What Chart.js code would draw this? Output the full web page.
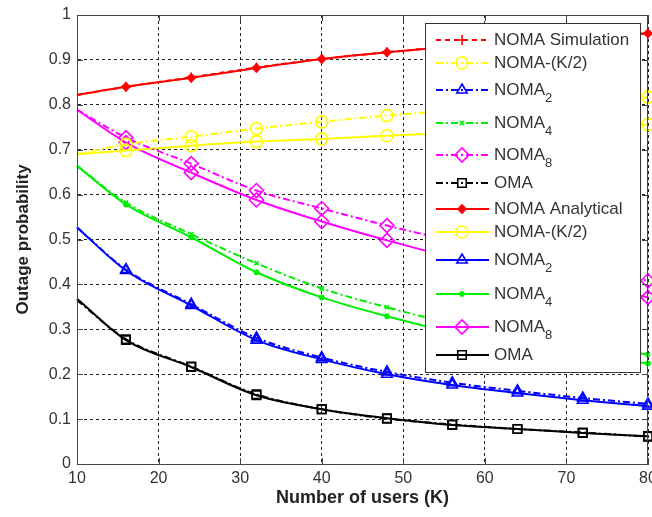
<!DOCTYPE html>
<html>
<head>
<meta charset="utf-8">
<script src="https://cdn.jsdelivr.net/npm/chart.js@4.4.1/dist/chart.umd.min.js"></script>
<style>
  html, body { margin: 0; padding: 0; background: #fff; }
  #wrap { width: 652px; height: 517px; }
</style>
</head>
<body>
<div id="wrap"><canvas id="chart" width="652" height="517"></canvas></div>
<script>
// number of users K (first point has no marker)
var usersK = [10, 16, 24, 32, 40, 48, 56, 64, 72, 80];

var nomaSim = [0.822, 0.840, 0.861, 0.883, 0.902, 0.917, 0.930, 0.941, 0.951, 0.959];
var nomaAna = [0.822, 0.840, 0.860, 0.882, 0.902, 0.917, 0.930, 0.941, 0.951, 0.959];
var halfSim = [0.690, 0.712, 0.729, 0.747, 0.762, 0.776, 0.787, 0.798, 0.808, 0.817];
var halfAna = [0.690, 0.698, 0.709, 0.718, 0.724, 0.731, 0.738, 0.744, 0.750, 0.756];
var n2Sim = [0.527, 0.433, 0.356, 0.281, 0.237, 0.205, 0.181, 0.163, 0.147, 0.134];
var n2Ana = [0.527, 0.431, 0.353, 0.276, 0.233, 0.200, 0.176, 0.158, 0.142, 0.129];
var n4Sim = [0.664, 0.582, 0.512, 0.447, 0.391, 0.349, 0.313, 0.286, 0.263, 0.244];
var n4Ana = [0.664, 0.578, 0.505, 0.427, 0.371, 0.329, 0.293, 0.266, 0.243, 0.224];
var n8Sim = [0.789, 0.727, 0.669, 0.609, 0.569, 0.531, 0.497, 0.465, 0.436, 0.408];
var n8Ana = [0.789, 0.716, 0.649, 0.588, 0.540, 0.498, 0.460, 0.426, 0.397, 0.371];
var omaSim = [0.365, 0.278, 0.217, 0.155, 0.122, 0.101, 0.088, 0.078, 0.070, 0.061];
var omaAna = [0.368, 0.276, 0.216, 0.153, 0.122, 0.102, 0.087, 0.078, 0.069, 0.062];

var xTicks = [10, 20, 30, 40, 50, 60, 70, 80];
var yTicks = [0, 0.1, 0.2, 0.3, 0.4, 0.5, 0.6, 0.7, 0.8, 0.9, 1];

var DASH = [5, 4];
var DASHDOT = [7, 3, 2, 3];

function pts(vals) {
  return vals.map(function(v, i) { return {x: usersK[i], y: v}; });
}
function radii(r) {
  return usersK.map(function(k, i) { return i === 0 ? 0 : r; });
}

// label, subscript, data, color, dash, marker, radius, filled
var series = [
  ['NOMA Simulation', '', nomaSim, '#ff0000', DASH, 'cross', 5, false],
  ['NOMA-(K/2)', '', halfSim, '#ffff00', DASHDOT, 'circle', 6, false],
  ['NOMA', '2', n2Sim, '#0000ff', DASHDOT, 'triangle', 6, false],
  ['NOMA', '4', n4Sim, '#00ee00', DASHDOT, 'crossRot', 3, false],
  ['NOMA', '8', n8Sim, '#ff00ff', DASHDOT, 'rectRot', 7, false],
  ['OMA', '', omaSim, '#000000', DASHDOT, 'rect', 6, false],
  ['NOMA Analytical', '', nomaAna, '#ff0000', [], 'rectRot', 4, true],
  ['NOMA-(K/2)', '', halfAna, '#ffff00', [], 'circle', 6, false],
  ['NOMA', '2', n2Ana, '#0000ff', [], 'triangle', 6, false],
  ['NOMA', '4', n4Ana, '#00ee00', [], 'star', 3, false],
  ['NOMA', '8', n8Ana, '#ff00ff', [], 'rectRot', 7, false],
  ['OMA', '', omaAna, '#000000', [], 'rect', 6, false]
];

var datasets = series.map(function(s) {
  return {
    label: s[0] + s[1],
    data: pts(s[2]),
    borderColor: s[3],
    backgroundColor: s[3],
    borderWidth: 2,
    borderDash: s[4],
    pointStyle: s[5],
    pointRadius: radii(s[6]),
    pointBorderWidth: 1.6,
    pointBorderColor: s[3],
    pointBackgroundColor: s[7] ? s[3] : 'rgba(0,0,0,0)',
    cubicInterpolationMode: 'monotone',
    clip: false
  };
});

// legend row centres (rows with subscripts are taller)
var legendRows = [40, 63, 90, 123, 155, 183, 209, 232, 260, 294, 327, 355];

var framePlugin = {
  id: 'frame',
  afterDatasetsDraw: function(chart) {
    var ctx = chart.ctx;
    var a = chart.chartArea;
    var xs = chart.scales.x, ys = chart.scales.y;
    ctx.save();
    ctx.setLineDash([]);
    ctx.strokeStyle = '#444';
    ctx.lineWidth = 1;
    ctx.strokeRect(a.left + 0.5, a.top + 0.5, a.right - a.left - 1, a.bottom - a.top);
    ctx.beginPath();
    xTicks.forEach(function(t) {
      var px = Math.round(xs.getPixelForValue(t)) + 0.5;
      ctx.moveTo(px, a.bottom); ctx.lineTo(px, a.bottom - 6);
      ctx.moveTo(px, a.top); ctx.lineTo(px, a.top + 6);
    });
    yTicks.forEach(function(t) {
      var py = Math.round(ys.getPixelForValue(t)) + 0.5;
      ctx.moveTo(a.left, py); ctx.lineTo(a.left + 6, py);
      ctx.moveTo(a.right, py); ctx.lineTo(a.right - 6, py);
    });
    ctx.stroke();

    // legend box inside the plot
    var bx = 425, by = 23, bw = 215, bh = 349;
    ctx.fillStyle = '#fff';
    ctx.fillRect(bx, by, bw, bh);
    ctx.strokeStyle = '#333';
    ctx.strokeRect(bx + 0.5, by + 0.5, bw, bh);

    series.forEach(function(s, i) {
      var y = legendRows[i];
      ctx.save();
      ctx.strokeStyle = s[3];
      ctx.lineWidth = 2;
      ctx.setLineDash(s[4]);
      ctx.beginPath();
      ctx.moveTo(436, y);
      ctx.lineTo(489, y);
      ctx.stroke();
      ctx.setLineDash([]);
      ctx.lineWidth = 1.6;
      ctx.fillStyle = s[7] ? s[3] : 'rgba(0,0,0,0)';
      Chart.helpers.drawPoint(ctx, {pointStyle: s[5], radius: s[6], rotation: 0, borderWidth: 1.6}, 462, y);
      ctx.restore();

      ctx.fillStyle = '#333';
      ctx.textBaseline = 'middle';
      ctx.textAlign = 'left';
      ctx.font = '17px "Liberation Sans", Arial, sans-serif';
      ctx.fillText(s[0], 494, y);
      if (s[1]) {
        var w = ctx.measureText(s[0]).width;
        ctx.font = '13px "Liberation Sans", Arial, sans-serif';
        ctx.fillText(s[1], 494 + w, y + 8);
      }
    });
    ctx.restore();
  }
};

var tickFont = {family: '"Liberation Sans", Arial, sans-serif', size: 16};

new Chart(document.getElementById('chart'), {
  type: 'line',
  data: {datasets: datasets},
  plugins: [framePlugin],
  options: {
    responsive: false,
    animation: false,
    layout: {autoPadding: false, padding: {top: 15, right: 4, left: 0, bottom: 0}},
    plugins: {legend: {display: false}, tooltip: {enabled: false}},
    scales: {
      x: {
        type: 'linear',
        min: 10, max: 80,
        afterBuildTicks: function(s) { s.ticks = xTicks.map(function(v) { return {value: v}; }); },
        afterFit: function(s) { s.height = 53; s.paddingLeft = 0; s.paddingRight = 0; },
        ticks: {color: '#333', font: tickFont, padding: 5, maxRotation: 0, autoSkip: false},
        grid: {color: '#222', lineWidth: 1, drawTicks: false},
        border: {color: '#444', dash: [3, 3]},
        title: {
          display: true, text: 'Number of users (K)', color: '#222',
          font: {family: '"Liberation Sans", Arial, sans-serif', size: 18, weight: 'bold'},
          padding: {top: 0, bottom: 8}
        }
      },
      y: {
        type: 'linear',
        min: 0, max: 1,
        afterBuildTicks: function(s) { s.ticks = yTicks.map(function(v) { return {value: v}; }); },
        afterFit: function(s) { s.width = 77; s.paddingTop = 0; s.paddingBottom = 0; },
        ticks: {
          color: '#333', font: tickFont, padding: 6, autoSkip: false,
          callback: function(v) { return String(Math.round(v * 10) / 10); }
        },
        grid: {color: '#222', lineWidth: 1, drawTicks: false},
        border: {color: '#444', dash: [3, 3]},
        title: {
          display: true, text: 'Outage probability', color: '#222',
          font: {family: '"Liberation Sans", Arial, sans-serif', size: 17, weight: 'bold'},
          padding: {top: 13, bottom: 0}
        }
      }
    }
  }
});
</script>
</body>
</html>
